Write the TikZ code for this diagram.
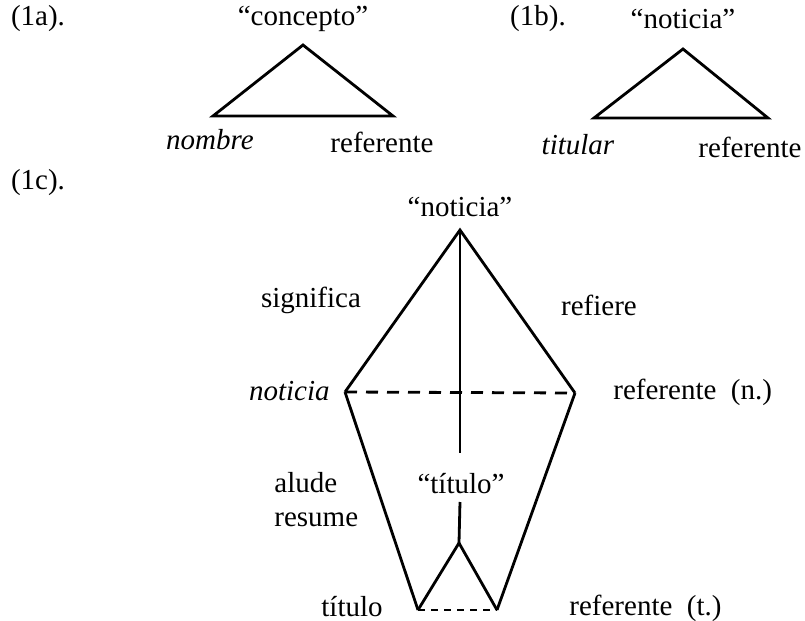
\documentclass[tikz,border=0pt]{standalone}
\usepackage{fontspec}
\setmainfont{Liberation Serif}
\begin{document}
\begin{tikzpicture}[x=0.5pt, y=-0.5pt, line width=1.4pt,
        every node/.style={font=\fontsize{14.5}{17}\selectfont, inner sep=1pt},
        longdash/.style={dash pattern=on 6pt off 4.5pt},
        shortdash/.style={dash pattern=on 3.5pt off 3pt}]
        \useasboundingbox (0,0) rectangle (805,621);

        % (1a)
        \node (la) at (38, 19) {(1a).};
        \node (ca) at (303, 19) {``concepto''};
        \coordinate (topa) at (303, 45);
        \coordinate (lefta) at (213, 116);
        \coordinate (righta) at (393, 116);
        \node (nombre) at (210, 140) {\itshape nombre};
        \node (refa) at (382, 142) {referente};
        \draw (topa) -- (righta) -- (lefta) -- cycle;

        % (1b)
        \node (lb) at (538, 19) {(1b).};
        \node (cb) at (683, 19) {``noticia''};
        \coordinate (topb) at (683, 49);
        \coordinate (leftb) at (594, 118);
        \coordinate (rightb) at (768, 118);
        \node (titular) at (578, 145) {\itshape titular};
        \node (refb) at (750, 147) {referente};
        \draw (topb) -- (rightb) -- (leftb) -- cycle;

        % (1c)
        \node (lc) at (38, 183) {(1c).};
        \node (cc) at (460, 207) {``noticia''};
        \coordinate (top) at (460, 230);
        \coordinate (midl) at (345, 392);
        \coordinate (midr) at (575, 393);
        \coordinate (lowl) at (418, 610);
        \coordinate (lowr) at (497, 610);
        \coordinate (fork) at (459, 543);
        \node (tq) at (461, 484) {``título''};
        \coordinate (axis) at (460, 453);
        \coordinate (stem) at (460, 502);

        \node (signif) at (311, 300) {significa};
        \node (refiere) at (599, 305) {refiere};
        \node[anchor=east] (noticia) at (333, 391) {\itshape noticia};
        \node[anchor=west] (refn) at (610, 392) {referente~~(n.)};
        \node[align=left, anchor=west] (alude) at (271, 500) {alude\\resume};
        \node (titulo) at (352, 607) {título};
        \node[anchor=west] (reft) at (566, 608) {referente~~(t.)};

        % Lines
        \draw (midl) -- (top) -- (midr);
        \draw (midl) -- (lowl);
        \draw (midr) -- (lowr);
        \draw (top) -- (axis);
        \draw (stem) -- (fork);
        \draw (lowl) -- (fork) -- (lowr);
        \draw[longdash] (midl) -- (midr);
        \draw[shortdash] (lowl) -- (lowr);
    \end{tikzpicture}
\end{document}
